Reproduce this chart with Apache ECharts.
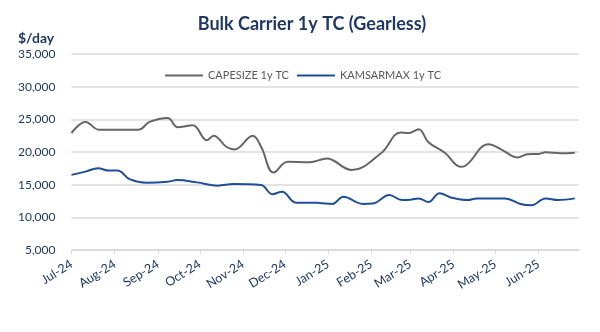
<!DOCTYPE html>
<html>
<head>
<meta charset="utf-8">
<script src="https://cdn.jsdelivr.net/npm/echarts@6/dist/echarts.min.js"></script>
<style>
html,body{margin:0;padding:0;background:#fff;}
#chart{width:600px;height:332px;}
</style>
</head>
<body>
<div id="chart"></div>
<script>
const titleText = 'Bulk Carrier 1y TC (Gearless)';
const unitText = '$/day';
const seriesNames = ['CAPESIZE 1y TC', 'KAMSARMAX 1y TC'];

const capeDates = ['2024-07-01','2024-07-11','2024-07-21','2024-08-18','2024-08-26','2024-09-08','2024-09-15','2024-09-26','2024-10-06','2024-10-11','2024-10-20','2024-10-26','2024-11-08','2024-11-14','2024-11-23','2024-12-03','2024-12-19','2024-12-28','2024-12-31','2025-01-18','2025-02-08','2025-02-22','2025-02-28','2025-03-07','2025-03-14','2025-03-26','2025-04-06','2025-04-09','2025-04-26','2025-05-06','2025-05-17','2025-05-24','2025-06-01','2025-06-06','2025-06-17','2025-06-27'];
const capeValues = [22900,24600,23400,23400,24600,25200,23800,24100,21800,22500,20800,20400,22500,20800,16850,18500,18450,18900,19000,17250,19800,23000,22900,23500,21500,19850,17750,17850,21200,20300,19150,19650,19700,19950,19800,19900];

const kmxDates = ['2024-07-01','2024-07-11','2024-07-20','2024-07-28','2024-08-03','2024-08-12','2024-08-24','2024-09-08','2024-09-15','2024-09-29','2024-10-14','2024-10-25','2024-11-14','2024-11-22','2024-11-29','2024-12-09','2024-12-24','2024-12-28','2025-01-04','2025-01-12','2025-01-26','2025-02-02','2025-02-14','2025-02-23','2025-03-01','2025-03-07','2025-03-14','2025-03-22','2025-03-30','2025-04-11','2025-04-18','2025-05-08','2025-05-19','2025-05-27','2025-06-06','2025-06-15','2025-06-27'];
const kmxValues = [16500,17000,17500,17150,17150,15800,15300,15450,15700,15350,14850,15100,14950,13550,13900,12250,12250,12150,12050,13150,12050,12100,13400,12650,12700,12900,12350,13700,13050,12650,12900,12900,12050,11850,12900,12650,12900];

const yMin = 5000, yMax = 35000, yStep = 5000;
const xStart = '2024-07-01', xEnd = '2025-06-30';
const monthNames = ['Jan','Feb','Mar','Apr','May','Jun','Jul','Aug','Sep','Oct','Nov','Dec'];

const FONT = 'Lato, "Open Sans", sans-serif';
const NAVY = '#1F3864';
const GRAY = '#666666';
const BLUE = '#1F4E99';

const chart = echarts.init(document.getElementById('chart'), null, {renderer: 'canvas'});
chart.setOption({
  animation: false,
  backgroundColor: '#ffffff',
  title: [
    {text: titleText, left: 307, textAlign: 'center', top: 10,
     textStyle: {fontFamily: FONT, fontSize: 18, fontWeight: 'bold', color: NAVY}},
    {text: unitText, left: 13, top: 26,
     textStyle: {fontFamily: FONT, fontSize: 14, fontWeight: 'bold', color: NAVY}}
  ],
  legend: {
    left: 160, top: 65,
    icon: 'rect',
    itemWidth: 38, itemHeight: 2, itemGap: 8,
    textStyle: {fontFamily: FONT, fontSize: 11, color: '#595959'},
    data: [
      {name: seriesNames[0], itemStyle: {color: GRAY}},
      {name: seriesNames[1], itemStyle: {color: BLUE}}
    ]
  },
  grid: {left: 71.5, right: 21, top: 54, bottom: 82, containLabel: false},
  xAxis: {
    type: 'time',
    min: xStart, max: xEnd,
    splitNumber: 12,
    minInterval: 28 * 86400000,
    maxInterval: 31 * 86400000,
    axisLine: {show: true, lineStyle: {color: '#d9d9d9', width: 1.5}},
    axisTick: {show: true, length: 4, lineStyle: {color: '#d9d9d9'}},
    splitLine: {show: false},
    axisLabel: {
      rotate: 32, margin: 13,
      fontFamily: FONT, fontSize: 12.5, color: NAVY,
      showMaxLabel: false,
      formatter: function (val) {
        const d = new Date(val);
        return monthNames[d.getMonth()] + '-' + String(d.getFullYear()).slice(2);
      }
    }
  },
  yAxis: {
    type: 'value', min: yMin, max: yMax, interval: yStep,
    axisLine: {show: false}, axisTick: {show: false},
    splitLine: {lineStyle: {color: '#d9d9d9', width: 1.5}},
    axisLabel: {fontFamily: FONT, fontSize: 12, color: NAVY, margin: 16,
      formatter: function (v) { return v.toLocaleString('en-US'); }}
  },
  series: [
    {name: seriesNames[0], type: 'line', smooth: 0.4, symbol: 'none',
     lineStyle: {color: GRAY, width: 2}, itemStyle: {color: GRAY},
     data: capeDates.map((d, i) => [d, capeValues[i]])},
    {name: seriesNames[1], type: 'line', smooth: 0.4, symbol: 'none',
     lineStyle: {color: BLUE, width: 2}, itemStyle: {color: BLUE},
     data: kmxDates.map((d, i) => [d, kmxValues[i]])}
  ]
});
</script>
</body>
</html>
